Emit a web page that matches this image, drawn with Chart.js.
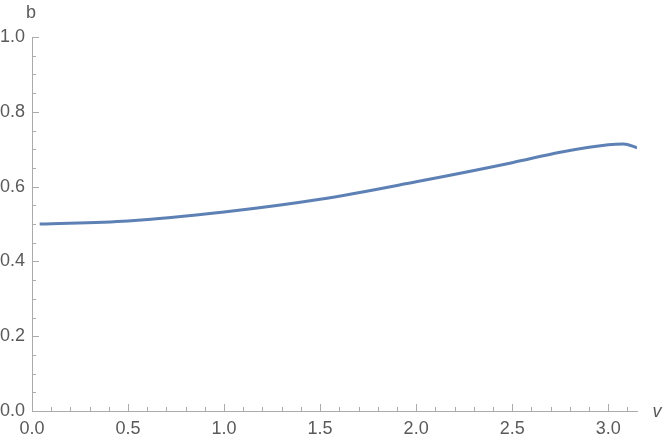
<!DOCTYPE html>
<html>
<head>
<meta charset="utf-8">
<script src="https://cdn.jsdelivr.net/npm/chart.js@4"></script>
<style>
  html, body { margin: 0; padding: 0; background: #fff; }
  #wrap { width: 664px; height: 445px; }
</style>
</head>
<body>
<div id="wrap"><canvas id="chart" width="664" height="445"></canvas></div>
<script>
// curve
const vValues = [0.04, 0.5, 1.0, 1.5, 2.0, 2.5, 2.75, 3.0, 3.08, 3.15];
const bValues = [0.5, 0.508, 0.532, 0.566, 0.613, 0.664, 0.692, 0.712, 0.714, 0.704];

const xTicks = [0, 0.5, 1.0, 1.5, 2.0, 2.5, 3.0];
const yTicks = [0, 0.2, 0.4, 0.6, 0.8, 1.0];

const axisColor = '#ababab';
const labelColor = '#5a5a5a';
const font = { family: 'Liberation Sans', size: 18 };

// inward major/minor ticks and the axis names
const axisDecor = {
    id: 'axisDecor',
    afterDraw(chart) {
        const ctx = chart.ctx;
        const xs = chart.scales.x, ys = chart.scales.y;
        const a = chart.chartArea;
        ctx.save();
        ctx.strokeStyle = axisColor;
        ctx.lineWidth = 1;
        ctx.beginPath();
        for (let i = 0; i <= 31; i++) {
            const px = Math.round(xs.getPixelForValue(i / 10)) + 0.5;
            const len = (i % 5 === 0) ? 7 : 4;
            ctx.moveTo(px, a.bottom);
            ctx.lineTo(px, a.bottom - len);
        }
        for (let i = 0; i <= 20; i++) {
            const py = Math.round(ys.getPixelForValue(i / 20)) + 0.5;
            const len = (i % 4 === 0) ? 7 : 4;
            ctx.moveTo(a.left, py);
            ctx.lineTo(a.left + len, py);
        }
        ctx.stroke();

        ctx.fillStyle = labelColor;
        ctx.font = '18px "Liberation Sans"';
        ctx.textAlign = 'center';
        ctx.textBaseline = 'alphabetic';
        ctx.fillText('b', 31, 18);
        ctx.font = 'italic 18px "Liberation Sans"';
        ctx.fillText('v', 657, 417);
        ctx.restore();
    }
};

const ctx = document.getElementById('chart').getContext('2d');
const chart = new Chart(ctx, {
    type: 'line',
    data: {
        datasets: [{
            data: vValues.map((v, i) => ({ x: v, y: bValues[i] })),
            borderColor: '#5e81b5',
            borderWidth: 3,
            pointRadius: 0,
            fill: false,
            cubicInterpolationMode: 'monotone'
        }]
    },
    options: {
        responsive: false,
        animation: false,
        layout: { padding: { top: 37, right: 27, left: 0, bottom: 0 } },
        plugins: {
            legend: { display: false },
            tooltip: { enabled: false }
        },
        scales: {
            x: {
                type: 'linear',
                min: 0,
                max: vValues[vValues.length - 1],
                afterBuildTicks: scale => { scale.ticks = xTicks.map(v => ({ value: v })); },
                afterFit: scale => { scale.height = 34; },
                grid: { drawOnChartArea: false, drawTicks: false },
                border: { color: axisColor, width: 1 },
                ticks: {
                    padding: 7,
                    color: labelColor,
                    font: font,
                    maxRotation: 0,
                    callback: v => v.toFixed(1)
                }
            },
            y: {
                type: 'linear',
                min: 0,
                max: 1,
                afterBuildTicks: scale => { scale.ticks = yTicks.map(v => ({ value: v })); },
                afterFit: scale => { scale.width = 32; },
                grid: { drawOnChartArea: false, drawTicks: false },
                border: { color: axisColor, width: 1 },
                ticks: {
                    padding: 7,
                    color: labelColor,
                    font: font,
                    callback: v => v.toFixed(1)
                }
            }
        }
    },
    plugins: [axisDecor]
});
</script>
</body>
</html>
